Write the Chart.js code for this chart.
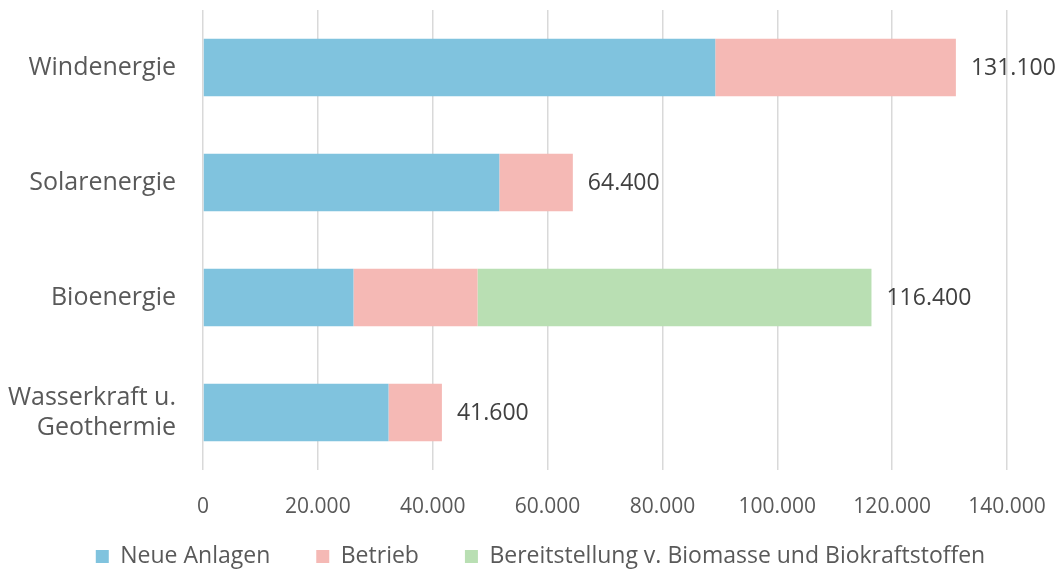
<!DOCTYPE html>
<html>
<head>
<meta charset="utf-8">
<script src="https://cdn.jsdelivr.net/npm/chart.js@4/dist/chart.umd.min.js"></script>
<style>
  html, body { margin: 0; padding: 0; background: #fff; }
  #wrap { width: 1061px; height: 572px; }
</style>
</head>
<body>
<div id="wrap"><canvas id="chart" width="1061" height="572"></canvas></div>
<script>
// DATA
const categories = [["Windenergie"], ["Solarenergie"], ["Bioenergie"], ["Wasserkraft u.", "Geothermie"]];
const neueAnlagen = [89200, 51600, 26200, 32300];
const betrieb = [41900, 12800, 21600, 9300];
const bereitstellung = [0, 0, 68600, 0];
const totals = [131100, 64400, 116400, 41600];
const xTicks = [0, 20000, 40000, 60000, 80000, 100000, 120000, 140000];

const FONT = "'Open Sans', 'Noto Sans', sans-serif";
const GREY = "#595959";

function fmt(n) {
    return String(n).replace(/\B(?=(\d{3})+(?!\d))/g, ".");
}

// TOTAL LABELS
const totalLabels = {
    id: "totalLabels",
    afterLayout(chart) {
        // let the x tick labels reach into the legend band, nudge legend right
        chart.scales.x.bottom = chart.height;
        chart.legend.left += 37;
        chart.legend.right += 37;
    },
    afterDatasetsDraw(chart) {
        const ctx = chart.ctx;
        const x = chart.scales.x;
        const y = chart.scales.y;
        ctx.save();
        ctx.font = "23px " + FONT;
        ctx.fillStyle = "#404040";
        ctx.textBaseline = "middle";
        ctx.textAlign = "left";
        totals.forEach((t, i) => {
            ctx.fillText(fmt(t), x.getPixelForValue(t) + 15, y.getPixelForValue(i) + 1);
        });
        ctx.restore();
    }
};

new Chart(document.getElementById("chart"), {
    type: "bar",
    data: {
        labels: categories,
        datasets: [
            { label: "Neue Anlagen", data: neueAnlagen, backgroundColor: "#80c3de" },
            { label: "Betrieb", data: betrieb, backgroundColor: "#f5b9b5" },
            { label: "Bereitstellung v. Biomasse und Biokraftstoffen", data: bereitstellung, backgroundColor: "#b9dfb3" }
        ]
    },
    options: {
        indexAxis: "y",
        responsive: false,
        animation: false,
        layout: { padding: { top: 10, right: 54, left: 0, bottom: -6 } },
        datasets: { bar: { categoryPercentage: 0.5, barPercentage: 1, borderWidth: 0 } },
        plugins: {
            tooltip: { enabled: false },
            legend: {
                position: "bottom",
                labels: {
                    font: { family: FONT, size: 23 },
                    color: GREY,
                    boxWidth: 13,
                    boxHeight: 13,
                    padding: 46
                }
            }
        },
        scales: {
            x: {
                stacked: true,
                min: 0,
                max: 140000,
                afterBuildTicks: s => { s.ticks = xTicks.map(v => ({ value: v })); },
                afterFit: s => { s.height = 29; s.paddingLeft = 0; s.paddingRight = 0; },
                grid: { color: "#d9d9d9", lineWidth: 1.5, drawTicks: false },
                border: { display: false },
                ticks: {
                    font: { family: FONT, size: 21 },
                    color: GREY,
                    padding: 24,
                    maxRotation: 0,
                    callback: v => fmt(v)
                }
            },
            y: {
                stacked: true,
                afterFit: s => { s.width = 203; s.paddingTop = 0; s.paddingBottom = 0; },
                grid: { display: false },
                border: { display: false },
                ticks: {
                    font: { family: FONT, size: 25, lineHeight: 1.2 },
                    color: GREY,
                    padding: 19
                }
            }
        }
    },
    plugins: [totalLabels]
});
</script>
</body>
</html>
